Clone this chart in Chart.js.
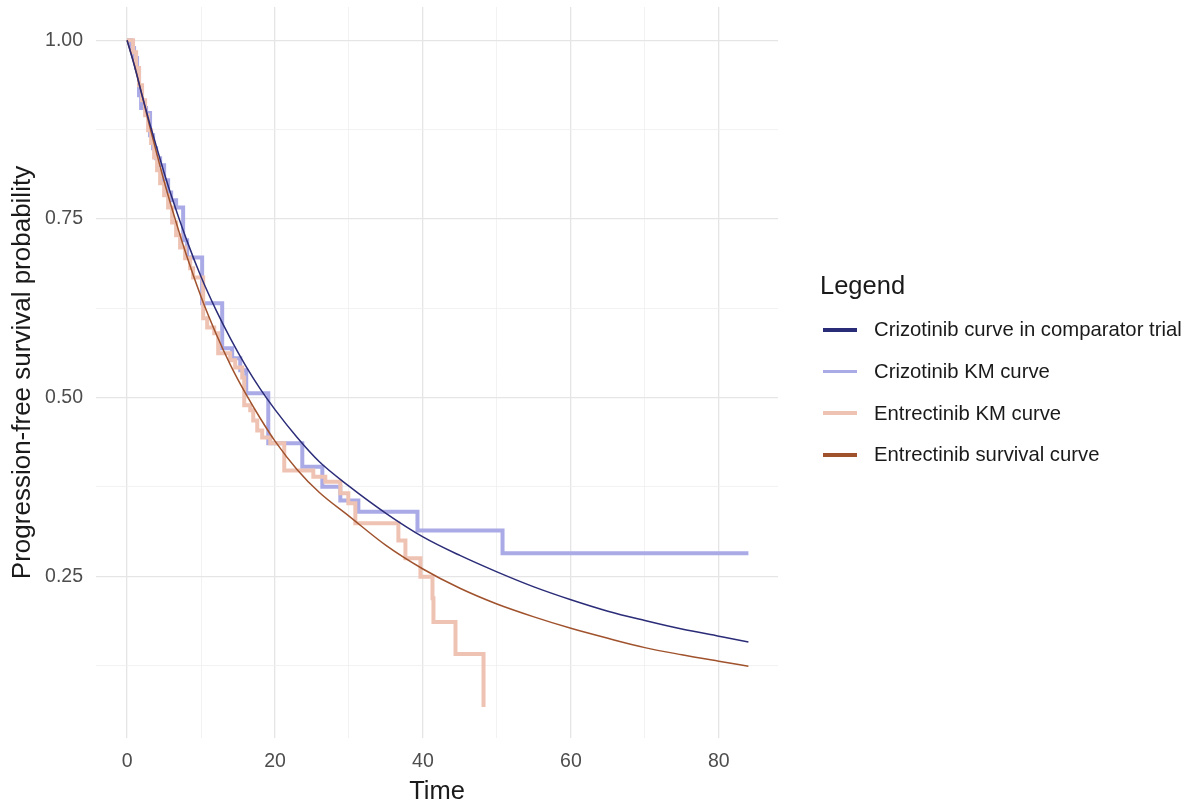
<!DOCTYPE html>
<html>
<head>
<meta charset="utf-8">
<script src="https://cdn.jsdelivr.net/npm/chart.js@4.4.1/dist/chart.umd.min.js"></script>
<style>
  body { margin: 0; background: #fff; font-family: 'Liberation Sans', Arial, sans-serif; }
  #wrap { position: relative; width: 1190px; height: 800px; }
  #legend { position: absolute; left: 820px; top: 268px; color: #1a1a1a; }
  #legend .title { font-size: 25.5px; line-height: 34px; margin-bottom: 7px; }
  #legend .item { height: 41.7px; display: flex; align-items: center; font-size: 20.3px; white-space: nowrap; }
  #legend .key { width: 34px; height: 3.5px; margin: 0 17px 0 3px; flex: none; }
</style>
</head>
<body>
<div id="wrap">
  <canvas id="km" width="1190" height="800"></canvas>
  <div id="legend"></div>
</div>
<script>
// fitted survival curves
const curveTime = [0, 1, 2, 3, 4, 5, 6, 8, 10, 12, 14, 16, 18, 20, 23, 26, 30, 35, 40, 45, 50, 55, 60, 65, 70, 75, 80, 84];
const crizCurve = [1, 0.964, 0.924, 0.886, 0.85, 0.815, 0.782, 0.722, 0.669, 0.623, 0.582, 0.545, 0.512, 0.483, 0.444, 0.41, 0.376, 0.338, 0.305, 0.279, 0.256, 0.235, 0.217, 0.201, 0.188, 0.176, 0.166, 0.158];
const entrCurve = [1, 0.965, 0.924, 0.882, 0.842, 0.803, 0.767, 0.7, 0.641, 0.59, 0.545, 0.506, 0.471, 0.439, 0.399, 0.367, 0.334, 0.293, 0.26, 0.233, 0.211, 0.193, 0.177, 0.163, 0.15, 0.14, 0.131, 0.124];

// Kaplan-Meier steps (time of event, survival after it)
const crizKmTime = [0, 0.54, 0.95, 1.35, 1.62, 1.9, 2.57, 3.11, 3.52, 3.93, 4.47, 5.01, 5.55, 5.96, 6.63, 7.58, 8.12, 10.15, 12.86, 14.21, 15.3, 16.11, 19.09, 23.69, 26.4, 28.83, 31.27, 39.26, 50.76, 84];
const crizKmSurv = [1, 0.989, 0.975, 0.961, 0.923, 0.905, 0.898, 0.867, 0.849, 0.835, 0.825, 0.804, 0.787, 0.776, 0.766, 0.72, 0.696, 0.632, 0.569, 0.555, 0.538, 0.506, 0.436, 0.403, 0.375, 0.356, 0.34, 0.314, 0.282, 0.282];
const entrKmTime = [0, 0.81, 1.22, 1.62, 2.03, 2.44, 2.84, 3.25, 3.65, 4.06, 4.47, 5.01, 5.55, 6.09, 6.63, 7.17, 7.85, 8.53, 8.93, 10.29, 10.83, 11.78, 12.32, 13.94, 14.62, 15.57, 15.84, 16.65, 17.06, 17.6, 18.27, 19.36, 21.25, 25.18, 26.8, 28.83, 29.91, 30.86, 36.68, 37.63, 39.66, 41.29, 41.42, 44.4, 48.19];
const entrKmSurv = [1, 0.983, 0.961, 0.937, 0.916, 0.895, 0.874, 0.856, 0.836, 0.818, 0.8, 0.783, 0.766, 0.745, 0.727, 0.71, 0.695, 0.681, 0.668, 0.611, 0.598, 0.59, 0.562, 0.552, 0.542, 0.528, 0.489, 0.482, 0.468, 0.454, 0.444, 0.436, 0.398, 0.389, 0.382, 0.366, 0.352, 0.324, 0.3, 0.275, 0.249, 0.219, 0.186, 0.141, 0.067];

const xTicks = [0, 10, 20, 30, 40, 50, 60, 70, 80];
const yTicks = [0.125, 0.25, 0.375, 0.5, 0.625, 0.75, 0.875, 1.0];

const seriesNames = ['Crizotinib curve in comparator trial', 'Crizotinib KM curve', 'Entrectinib KM curve', 'Entrectinib survival curve'];
const seriesColors = ['#2b2c78', '#a9aae6', '#efc3b3', '#a0522d'];

const pts = (xs, ys) => xs.map((x, i) => ({ x: x, y: ys[i] }));

Chart.defaults.font.family = "'Liberation Sans', Arial, sans-serif";

const isMajorX = v => v % 20 === 0;
const isMajorY = v => Math.abs(v * 4 - Math.round(v * 4)) < 1e-9;

new Chart('km', {
  type: 'line',
  data: {
    datasets: [
      {
        label: seriesNames[0], data: pts(curveTime, crizCurve),
        borderColor: seriesColors[0], borderWidth: 1.5,
        cubicInterpolationMode: 'monotone', pointRadius: 0
      },
      {
        label: seriesNames[3], data: pts(curveTime, entrCurve),
        borderColor: seriesColors[3], borderWidth: 1.5,
        cubicInterpolationMode: 'monotone', pointRadius: 0
      },
      {
        label: seriesNames[2], data: pts(entrKmTime, entrKmSurv),
        borderColor: seriesColors[2], borderWidth: 4, stepped: 'before',
        borderCapStyle: 'butt', borderJoinStyle: 'miter', pointRadius: 0
      },
      {
        label: seriesNames[1], data: pts(crizKmTime, crizKmSurv),
        borderColor: seriesColors[1], borderWidth: 4, stepped: 'before',
        borderCapStyle: 'butt', borderJoinStyle: 'miter', pointRadius: 0
      }
    ]
  },
  options: {
    responsive: false,
    animation: false,
    layout: { autoPadding: false, padding: { left: 0, right: 412, top: 7, bottom: 0 } },
    plugins: { legend: { display: false }, tooltip: { enabled: false } },
    scales: {
      x: {
        type: 'linear', min: -4.2, max: 88,
        afterBuildTicks: s => { s.ticks = xTicks.map(v => ({ value: v })); },
        afterFit: s => { s.height = 62; },
        border: { display: false },
        grid: {
          drawTicks: false,
          color: c => isMajorX(c.tick.value) ? '#e5e5e5' : '#efefef',
          lineWidth: c => isMajorX(c.tick.value) ? 1.3 : 0.8
        },
        ticks: {
          autoSkip: false, maxRotation: 0, padding: 12,
          color: '#4d4d4d', font: { size: 19.5 },
          callback: v => isMajorX(v) ? String(v) : ''
        },
        title: { display: true, text: 'Time', color: '#1a1a1a', font: { size: 25.5, lineHeight: 1 }, padding: { top: 0, bottom: -5 } }
      },
      y: {
        type: 'linear', min: 0.0235, max: 1.0465,
        afterBuildTicks: s => { s.ticks = yTicks.map(v => ({ value: v })); },
        // fixed axis width, and no extra room reserved for the edge labels
        afterFit: s => { s.width = 96; s.paddingTop = 0; s.paddingBottom = 0; },
        border: { display: false },
        grid: {
          drawTicks: false,
          color: c => isMajorY(c.tick.value) ? '#e5e5e5' : '#efefef',
          lineWidth: c => isMajorY(c.tick.value) ? 1.3 : 0.8
        },
        ticks: {
          autoSkip: false, padding: 13,
          color: '#4d4d4d', font: { size: 19.5 },
          callback: v => isMajorY(v) ? v.toFixed(2) : ''
        },
        title: { display: true, text: 'Progression-free survival probability', color: '#1a1a1a', font: { size: 26, lineHeight: 1 }, padding: { top: 10, bottom: 0 } }
      }
    }
  }
});

// legend block on the right
const legend = document.getElementById('legend');
legend.innerHTML = '<div class="title">Legend</div>' + seriesNames.map((n, i) =>
  '<div class="item"><span class="key" style="background:' + seriesColors[i] + '"></span>' + n + '</div>'
).join('');
</script>
</body>
</html>
